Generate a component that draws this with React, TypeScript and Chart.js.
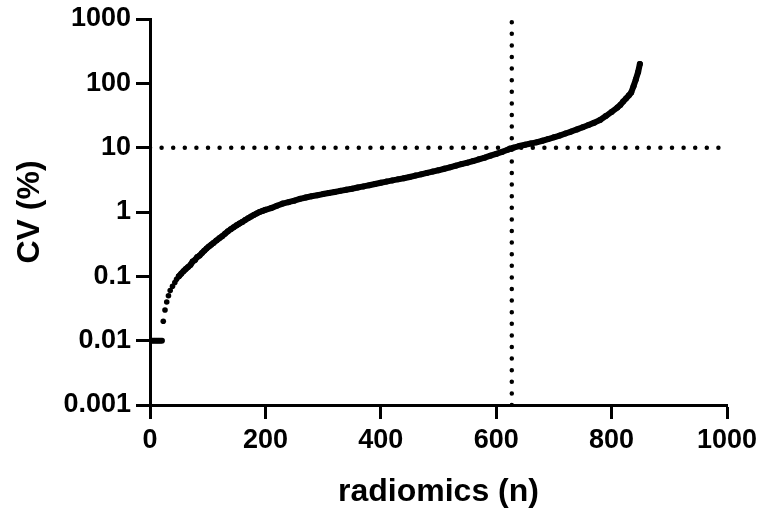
import React, { useEffect, useRef } from "react";
import { Chart, registerables } from "chart.js";

Chart.register(...registerables);

// Low-end quantized points (n, CV %)
const lowN = [3, 5, 7, 9, 11, 13, 15, 17, 19, 21, 23, 26, 29, 32, 35, 39, 43, 46, 50];
const lowCV = [0.01, 0.01, 0.01, 0.01, 0.01, 0.01, 0.01, 0.01, 0.01, 0.01, 0.02, 0.03, 0.04, 0.05, 0.06, 0.07, 0.08, 0.09, 0.1];

// Main curve (n, CV %)
const mainN = [
  50, 54, 58, 62, 66, 70, 74, 78, 82, 86, 90, 94, 98, 102, 106, 110, 115, 120, 125, 130,
  135, 140, 145, 150, 155, 160, 165, 170, 175, 180, 185, 190, 195, 200, 210, 220, 230, 240,
  250, 260, 270, 280, 290, 300, 310, 320, 330, 340, 350, 360, 370, 380, 390, 400, 410, 420,
  430, 440, 450, 460, 470, 480, 490, 500, 510, 520, 530, 540, 550, 560, 570, 580, 590, 600,
  610, 620, 630, 640, 650, 660, 670, 680, 690, 700, 710, 720, 730, 740, 750, 760, 770, 780,
  790, 800, 810, 815, 820, 825, 830, 834, 838, 842, 846, 849,
];
const mainCV = [
  0.1, 0.11, 0.12, 0.13, 0.14, 0.15, 0.17, 0.18, 0.2, 0.21, 0.23, 0.25, 0.27, 0.29, 0.31, 0.33, 0.36, 0.39, 0.42, 0.46,
  0.5, 0.54, 0.58, 0.62, 0.66, 0.7, 0.75, 0.8, 0.85, 0.9, 0.95, 1.0, 1.04, 1.08, 1.15, 1.25, 1.35, 1.42,
  1.5, 1.6, 1.68, 1.76, 1.82, 1.9, 1.97, 2.05, 2.13, 2.22, 2.3, 2.4, 2.5, 2.6, 2.72, 2.85, 2.97, 3.1,
  3.22, 3.35, 3.5, 3.68, 3.85, 4.05, 4.25, 4.45, 4.7, 4.95, 5.25, 5.55, 5.85, 6.2, 6.6, 7.0, 7.5, 8.0,
  8.6, 9.3, 10.0, 10.6, 11.1, 11.6, 12.1, 12.8, 13.6, 14.5, 15.4, 16.6, 17.8, 19.2, 20.8, 22.5, 24.5, 27,
  31, 36, 42, 46, 52, 58, 65, 72, 90, 115, 150, 200,
];

const xTicks = [0, 200, 400, 600, 800, 1000];
const yTicks = [0.001, 0.01, 0.1, 1, 10, 100, 1000];
const cutoffCV = 10;
const cutoffN = 627;

const xTitle = "radiomics (n)";
const yTitle = "CV (%)";

export default function App() {
  const ref = useRef<HTMLCanvasElement | null>(null);

  useEffect(() => {
    if (!ref.current) return;
    const font = { family: "'Liberation Sans', Arial, sans-serif", weight: "bold" as const };
    const chart = new Chart(ref.current, {
      type: "scatter",
      data: {
        datasets: [
          {
            type: "line",
            data: [
              { x: xTicks[0], y: cutoffCV },
              { x: xTicks[xTicks.length - 1], y: cutoffCV },
            ],
            borderColor: "#000",
            borderWidth: 4.5,
            borderDash: [0, 11.6],
            borderCapStyle: "round",
            pointRadius: 0,
            fill: false,
          },
          {
            type: "line",
            data: [
              { x: cutoffN, y: yTicks[0] },
              { x: cutoffN, y: yTicks[yTicks.length - 1] },
            ],
            borderColor: "#000",
            borderWidth: 4.5,
            borderDash: [0, 11.6],
            borderCapStyle: "round",
            pointRadius: 0,
            fill: false,
          },
          {
            data: lowN.map((n, i) => ({ x: n, y: lowCV[i] })),
            backgroundColor: "#000",
            borderColor: "#000",
            pointRadius: 2.8,
            borderWidth: 0,
          },
          {
            type: "line",
            data: mainN.map((n, i) => ({ x: n, y: mainCV[i] })),
            borderColor: "#000",
            backgroundColor: "#000",
            borderWidth: 6,
            borderCapStyle: "round",
            borderJoinStyle: "round",
            pointRadius: 3,
            pointBorderWidth: 0,
            fill: false,
          },
        ],
      },
      options: {
        animation: false,
        responsive: true,
        maintainAspectRatio: false,
        layout: { padding: { top: 19, right: 36, left: 0, bottom: 0 } },
        plugins: { legend: { display: false }, tooltip: { enabled: false } },
        scales: {
          x: {
            type: "linear",
            min: 0,
            max: 1000,
            afterFit: (s: any) => {
              s.height = 111;
            },
            afterBuildTicks: (s: any) => {
              s.ticks = xTicks.map((v) => ({ value: v }));
            },
            ticks: {
              color: "#000",
              font: { ...font, size: 27 },
              padding: 5,
              maxRotation: 0,
              callback: (v: any) => String(v),
            },
            grid: {
              display: true,
              drawOnChartArea: false,
              drawTicks: true,
              tickLength: 14,
              tickWidth: 3,
              tickColor: "#000",
            },
            border: { display: true, color: "#000", width: 3 },
            title: {
              display: true,
              text: xTitle,
              color: "#000",
              font: { ...font, size: 32 },
              padding: { top: 0, bottom: 5 },
            },
          },
          y: {
            type: "logarithmic",
            min: 0.001,
            max: 1000,
            afterFit: (s: any) => {
              s.width = 150;
            },
            afterBuildTicks: (s: any) => {
              s.ticks = yTicks.map((v) => ({ value: v, major: true }));
            },
            ticks: {
              color: "#000",
              font: { ...font, size: 27, lineHeight: 1 },
              padding: 5,
              callback: (v: any) => String(v),
            },
            grid: {
              display: true,
              drawOnChartArea: false,
              drawTicks: true,
              tickLength: 14,
              tickWidth: 3,
              tickColor: "#000",
            },
            border: { display: true, color: "#000", width: 3 },
            title: {
              display: true,
              text: yTitle,
              color: "#000",
              font: { ...font, size: 32 },
              padding: { top: 11, bottom: 0 },
            },
          },
        },
      },
    });
    return () => chart.destroy();
  }, []);

  return (
    <div style={{ position: "fixed", left: 0, top: 0, width: 763, height: 516, background: "#fff" }}>
      <canvas ref={ref} />
    </div>
  );
}
